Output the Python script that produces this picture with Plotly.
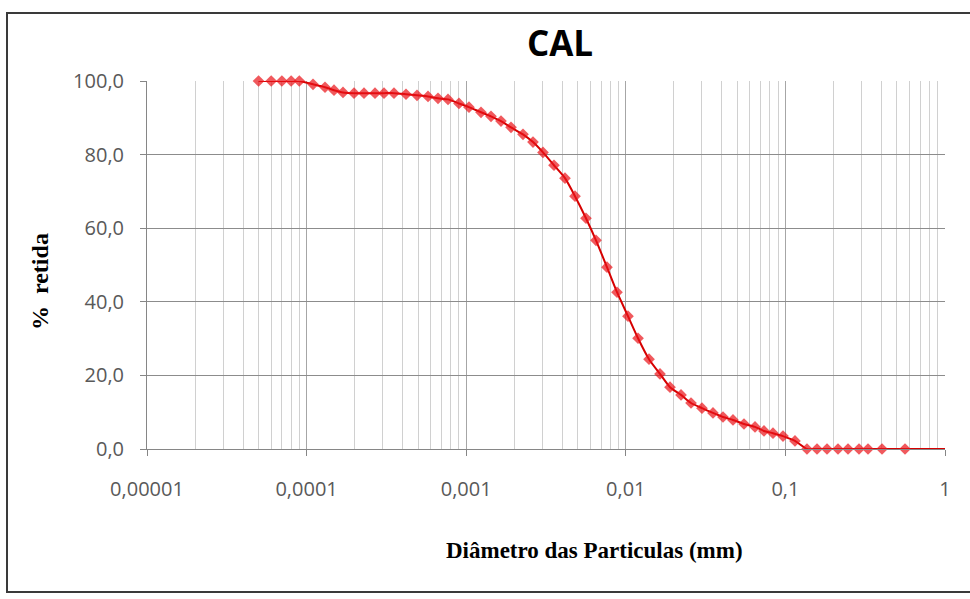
import plotly.graph_objects as go

diametro_mm = [
    0.00005, 0.00006, 0.00007, 0.00008, 0.00009,
    0.0001097, 0.0001304, 0.0001485, 0.0001691, 0.0001982, 0.0002289, 0.0002683,
    0.0003055, 0.0003528, 0.0004196, 0.0004918, 0.0005763, 0.0006658, 0.0007691,
    0.000901, 0.001041, 0.001238, 0.00143, 0.001652, 0.001909, 0.002269, 0.002621,
    0.003028, 0.003548, 0.004159, 0.004805, 0.00563, 0.006505, 0.007623, 0.008808,
    0.01032, 0.01193, 0.01398, 0.01638, 0.01892, 0.02218, 0.02562, 0.03002, 0.03518,
    0.04064, 0.04695, 0.05503, 0.0645, 0.07342, 0.0836, 0.0966, 0.1148,
    0.1365, 0.1578, 0.1823, 0.2136, 0.2468, 0.2892, 0.3293, 0.4031, 0.5616, 1.0,
]
retida_pct = [
    100.0, 100.0, 100.0, 100.0, 100.0,
    99.1, 98.3, 97.5, 96.9, 96.7, 96.7, 96.7,
    96.7, 96.7, 96.4, 96.1, 95.8, 95.3, 95.0,
    93.9, 92.9, 91.5, 90.4, 89.1, 87.4, 85.5, 83.4,
    80.6, 77.1, 73.6, 68.7, 62.7, 56.7, 49.4, 42.6,
    36.1, 30.1, 24.4, 20.4, 16.8, 14.7, 12.5, 11.1, 9.8,
    8.7, 7.9, 6.8, 6.0, 4.9, 4.3, 3.5, 2.2,
    0.0, 0.0, 0.0, 0.0, 0.0, 0.0, 0.0, 0.0, 0.0, 0.0,
]
marker_sizes = [9] * (len(diametro_mm) - 1) + [0]

x_tickvals = [0.00001, 0.0001, 0.001, 0.01, 0.1, 1]
x_ticktext = ["0,00001", "0,0001", "0,001", "0,01", "0,1", "1"]
y_tickvals = [0, 20, 40, 60, 80, 100]
y_ticktext = ["0,0", "20,0", "40,0", "60,0", "80,0", "100,0"]

W, H = 970, 599
L, R, T, B = 147, 25, 81, 150

fig = go.Figure()
fig.add_trace(go.Scatter(
    x=diametro_mm, y=retida_pct, mode="lines+markers",
    line=dict(color="#d60000", width=2, shape="spline", smoothing=0.6),
    marker=dict(symbol="diamond", size=marker_sizes, color="#ea1218",
                line=dict(width=0)),
    showlegend=False, cliponaxis=False,
))

fig.update_layout(
    width=W, height=H,
    margin=dict(l=L, r=R, t=T, b=B),
    paper_bgcolor="white", plot_bgcolor="white",
    title=dict(text="<b>CAL</b>", xref="container", yref="container",
               x=560 / W, xanchor="center", y=1 - 44 / H, yanchor="middle",
               font=dict(family="Open Sans", size=35, color="black")),
    shapes=[dict(type="rect", xref="paper", yref="paper",
                 x0=(7 - L) / (W - L - R), x1=1.06,
                 y0=-(592 - (H - B)) / (H - T - B), y1=((H - B) - 13) / (H - T - B),
                 line=dict(color="#3a3a3a", width=2), layer="below")],
    annotations=[
        dict(text="<b>Diâmetro das Particulas (mm)</b>", xref="paper", yref="paper",
             x=(594 - L) / (W - L - R), y=-(550 - (H - B)) / (H - T - B),
             xanchor="center", yanchor="middle", showarrow=False,
             font=dict(family="Liberation Serif", size=23, color="black")),
        dict(text="<b>%  retida</b>", xref="paper", yref="paper",
             x=(40 - L) / (W - L - R), y=((H - B) - 282) / (H - T - B),
             xanchor="center", yanchor="middle", showarrow=False, textangle=-90,
             font=dict(family="Liberation Serif", size=24, color="black")),
    ],
)

fig.update_xaxes(
    type="log", range=[-5, 0],
    tickvals=x_tickvals, ticktext=x_ticktext,
    tickfont=dict(family="Open Sans", size=20, color="#595959"),
    ticklabelstandoff=16,
    showgrid=True, gridcolor="#a6a6a6", gridwidth=1,
    minor=dict(dtick="D1", showgrid=True, gridcolor="#d0d0d0", gridwidth=1, ticks=""),
    showline=True, linecolor="#868686", linewidth=1,
    ticks="outside", ticklen=6, tickcolor="#868686",
    zeroline=False,
)
fig.update_yaxes(
    range=[0, 100],
    tickvals=y_tickvals, ticktext=y_ticktext,
    tickfont=dict(family="Open Sans", size=20, color="#595959"),
    ticklabelstandoff=12,
    showgrid=True, gridcolor="#8c8c8c", gridwidth=1,
    showline=True, linecolor="#868686", linewidth=1,
    ticks="outside", ticklen=6, tickcolor="#868686",
    zeroline=False,
)

fig.write_html("out.html")
